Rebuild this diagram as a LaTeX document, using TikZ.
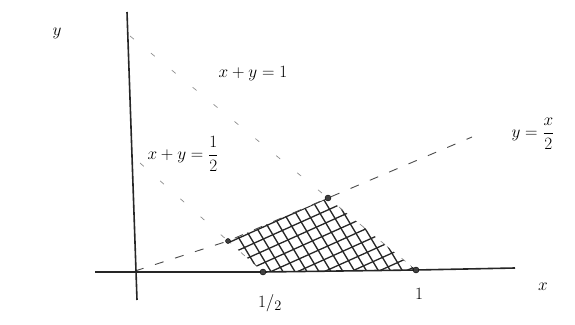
\documentclass[tikz,border=0pt]{standalone}
\usepackage{amsmath}
\begin{document}
\begin{tikzpicture}[x=1pt,y=-1pt,
  axis/.style={line width=1.6pt, black!85},
  guide/.style={line width=0.9pt, dashed, dash pattern=on 9pt off 12pt, black!70},
  faint/.style={line width=0.7pt, dash pattern=on 5pt off 22pt, black!45},
  hatch/.style={line width=1.3pt, black!85},
  dot/.style={circle, fill=black!75, draw=black, inner sep=0pt, minimum size=6pt},
  lab/.style={font=\fontsize{19}{22}\selectfont, inner sep=1pt}]
\useasboundingbox (0,0) rectangle (575,324);
% key points
\coordinate (O) at (135,271);
\coordinate (xl) at (95,272);
\coordinate (xr) at (515,268);
\coordinate (yt) at (127,12);
\coordinate (yb) at (137,300);
\coordinate (pA) at (263,272);
\coordinate (pB) at (416,270);
\coordinate (pC) at (328,198);
\coordinate (pD) at (228,241);
\coordinate (e1) at (130,36);
\coordinate (e2) at (140,163);
\coordinate (e3) at (472,137);
% hatched region
\begin{scope}
  \clip (pA) -- (pB) -- (pC) -- (pD) -- cycle;
  \foreach \k in {0,...,17} { \draw[hatch] (190,{176+12*\k}) -- ++(280,-126); }
  \foreach \k in {0,...,22} { \draw[hatch] ({150+12*\k},170) -- ++(72,120); }
\end{scope}
% guide lines
\draw[faint] (e1) -- (pC) -- (pB);
\draw[faint] (e2) -- (pD) -- (pA);
\draw[guide] (O) -- (pD) -- (pC) -- (e3);
% axes
\draw[axis] (xl) -- (pA) -- (pB);
\draw[axis] (pB) -- (xr);
\draw[axis] (yt) -- (yb);
% dots
\node[dot] (dA) at (pA) {};
\node[dot] (dB) at (pB) {};
\node[dot] (dC) at (pC) {};
\node[dot, minimum size=5pt] (dD) at (pD) {};
% labels
\node[lab] (ly) at (57,33) {$y$};
\node[lab] (l1) at (253,74) {$x+y=1$};
\node[lab] (l2) at (183,154) {$x+y=\dfrac{1}{2}$};
\node[lab] (l3) at (533,134) {$y=\dfrac{x}{2}$};
\node[lab] (lh) at (270,303) {$1/_{2}$};
\node[lab] (lo) at (419,294) {$1$};
\node[lab] (lx) at (543,287) {$x$};
\end{tikzpicture}
\end{document}
